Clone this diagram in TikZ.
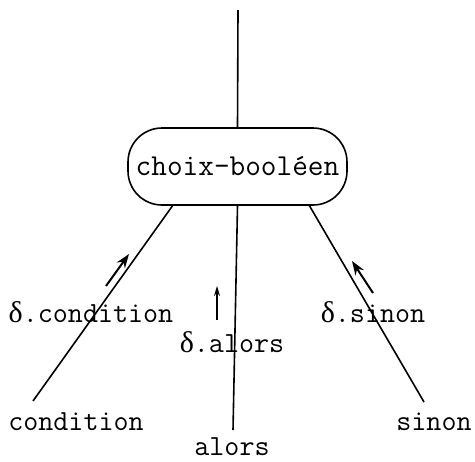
\documentclass[tikz,border=0pt]{standalone}
\usepackage{fontspec}
\newfontfamily\grk{Liberation Serif}
\usetikzlibrary{arrows.meta,calc}
\newcommand{\dlt}{{\grk\fontsize{15pt}{15pt}\selectfont δ}}
\begin{document}
\begin{tikzpicture}[x=0.5pt,y=-0.5pt,line width=0.8pt,
  lbl/.style={font=\ttfamily\fontsize{14.6pt}{16pt}\selectfont,inner sep=0pt},
  box/.style={draw,rounded corners=17pt,minimum width=109.5pt,minimum height=38.5pt,inner sep=0pt,
    font=\ttfamily\fontsize{15.2pt}{17pt}\selectfont},
  flow/.style={-{Stealth[length=7pt,width=5pt]},line width=1pt},
  thinflow/.style={-{Stealth[length=5pt,width=3pt]},line width=0.7pt}]
\useasboundingbox (0,0) rectangle (475,461);
\node[box] (n) at (237.5,166.5) {choix-booléen};
\coordinate (top) at (238,10);
\coordinate (le) at (33,401);
\coordinate (me) at (233,430);
\coordinate (re) at (424,402);
\coordinate (nl) at ([xshift=-32.5pt]n.south);
\coordinate (nm) at (n.south);
\coordinate (nr) at ([xshift=36pt]n.south);
\draw (top) -- (n.north);
\draw (nl) -- (le);
\draw (nm) -- (me);
\draw (nr) -- (re);
\node[lbl] (cond) at (76,422) {condition};
\node[lbl] (alors) at (232,447) {alors};
\node[lbl] (sinon) at (434,422) {sinon};
\node[lbl] (dcond) at (91,312) {\dlt.condition};
\node[lbl] (dalors) at (232,342) {\dlt.alors};
\node[lbl] (dsinon) at (373,312) {\dlt.sinon};
\coordinate (a1s) at (106,286);
\coordinate (a1e) at (129,254);
\coordinate (a2s) at (217,320);
\coordinate (a2e) at (217,286);
\coordinate (a3s) at (373,293);
\coordinate (a3e) at (352,261);
\draw[flow] (a1s) -- (a1e);
\draw[thinflow] (a2s) -- (a2e);
\draw[flow] (a3s) -- (a3e);
\end{tikzpicture}
\end{document}
